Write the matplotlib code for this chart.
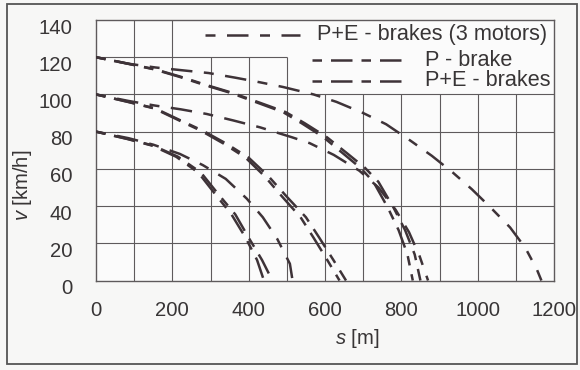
import matplotlib.pyplot as plt
import matplotlib.transforms as mtransforms
from matplotlib.patches import Rectangle

plt.rcParams['font.family'] = ['Liberation Sans', 'DejaVu Sans']
plt.rcParams['mathtext.fontset'] = 'custom'
plt.rcParams['mathtext.it'] = 'Liberation Sans:italic'
plt.rcParams['mathtext.rm'] = 'Liberation Sans'

# braking curves: s [m] and v [km/h]
s_80_pe = [0, 83, 147, 210, 268, 312, 355, 392, 422, 440]
v_80_pe = [80, 76, 72.5, 66.5, 58, 46.5, 35.5, 23, 11, 0]
s_80_p = [0, 85, 150, 215, 275, 320, 365, 400, 435, 462]
v_80_p = [80, 76, 72.5, 66.5, 58, 46.5, 35.5, 23, 11, 0]
s_80_3m = [0, 85, 150, 220, 280, 340, 395, 437, 475, 508, 515]
v_80_3m = [80, 76.5, 73, 68, 62, 54.6, 44, 34, 22.3, 9, 0]

s_100_pe = [0, 83, 152, 218, 275, 335, 392, 442, 488, 536, 570, 606, 638]
v_100_pe = [100, 96, 92.5, 86, 80.5, 73.5, 66, 56, 45, 34, 23, 11, 0]
s_100_p = [0, 85, 155, 222, 280, 342, 400, 452, 500, 550, 585, 622, 655]
v_100_p = [100, 96, 92.5, 86, 80.5, 73.5, 66, 56, 45, 34, 23, 11, 0]
s_100_3m = [0, 85, 155, 222, 290, 360, 430, 513, 560, 623, 690, 740, 785, 820, 848, 870]
v_100_3m = [100, 96.5, 94, 92, 89.5, 86, 82.3, 77, 73.8, 67.5, 59, 50, 38, 26, 13, 0]

s_120_pe = [0, 83, 152, 218, 285, 350, 417, 490, 539, 596, 646, 693, 727, 765, 793, 816, 830]
v_120_pe = [120, 116.5, 113.5, 109.5, 105, 101, 96, 90.5, 84.5, 77, 68.5, 60.5, 53, 39, 27, 14, 0]
s_120_p = [0, 85, 155, 222, 290, 355, 423, 497, 547, 605, 657, 705, 740, 780, 810, 835, 850]
v_120_p = [120, 116.5, 113.5, 109.5, 105, 101, 96, 90.5, 84.5, 77, 68.5, 60.5, 53, 39, 27, 14, 0]
s_120_3m = [0, 85, 155, 225, 295, 365, 430, 490, 570, 630, 700, 760, 825, 880, 935, 985, 1035, 1085, 1125, 1155, 1167]
v_120_3m = [120, 116.5, 114.5, 113, 111.5, 109, 106.5, 104, 100, 96, 90, 84, 75, 67, 58, 49, 39, 28.5, 17.5, 6, 0]

x_ticks = [0, 200, 400, 600, 800, 1000, 1200]
y_ticks = [0, 20, 40, 60, 80, 100, 120, 140]
legend_labels = ['P+E - brakes (3 motors)', 'P - brake', 'P+E - brakes']

ink = '#3e3338'
txt = '#383536'
grid_c = '#5e5a5c'
fs = 14.6
lw = 1.8
# dash lengths are multiplied by the line width
dash_3m = (0, (4.0, 4.6, 8.6, 4.6))
dash_p = (0, (3.8, 3.6, 8.6, 3.6))
dash_pe = (0, (3.8, 3.6, 8.6, 3.6))

fig = plt.figure(figsize=(5.8, 3.7), dpi=100)
fig.patch.set_facecolor('#f7f7f6')
ax = fig.add_axes([96 / 580, 1 - 280.5 / 370, 458 / 580, 260.5 / 370])
ax.set_facecolor('#fbfbfb')

# frame around the whole figure
fig.patches.append(Rectangle((7 / 580, 1 - 364 / 370), 570 / 580, 360 / 370,
                             transform=fig.transFigure, fill=False,
                             edgecolor='#555', lw=1.3))

# grid, left out behind the legend
for x in range(100, 1200, 100):
    top = 140 if x <= 200 else (120 if x <= 500 else 100)
    ax.vlines(x, 0, top, color=grid_c, lw=0.8, zorder=1)
for y in range(20, 140, 20):
    right = 500 if y == 120 else 1200
    ax.hlines(y, 0, right, color=grid_c, lw=0.8, zorder=1)

for s, v in [(s_80_3m, v_80_3m), (s_100_3m, v_100_3m), (s_120_3m, v_120_3m)]:
    ax.plot(s, v, color=ink, lw=lw, ls=dash_3m, zorder=3)
for s, v in [(s_80_p, v_80_p), (s_100_p, v_100_p), (s_120_p, v_120_p)]:
    ax.plot(s, v, color=ink, lw=lw, ls=dash_p, zorder=3)
for s, v in [(s_80_pe, v_80_pe), (s_100_pe, v_100_pe), (s_120_pe, v_120_pe)]:
    ax.plot(s, v, color=ink, lw=lw, ls=dash_pe, zorder=3)

# legend drawn by hand: samples left of the text
rows = [(0.238, 0.445, 0.482, 0.943, dash_3m),
        (0.472, 0.681, 0.718, 0.846, dash_p),
        (0.472, 0.681, 0.718, 0.766, dash_pe)]
for (x0, x1, xt, yr, ls), lab in zip(rows, legend_labels):
    ax.plot([x0, x1], [yr, yr], transform=ax.transAxes, color=ink, lw=lw, ls=ls)
    ax.text(xt, yr, lab, transform=ax.transAxes, fontsize=fs + 1, color=txt,
            va='center', ha='left')

ax.set_xlim(0, 1200)
ax.set_ylim(0, 140)
ax.set_xticks(x_ticks)
ax.set_yticks(y_ticks)
ax.tick_params(length=0, labelsize=fs, labelcolor=txt)
ax.tick_params(axis='y', pad=17)
ax.tick_params(axis='x', pad=15)
shift = mtransforms.ScaledTranslation(0, -0.06, fig.dpi_scale_trans)
for lab in ax.get_yticklabels():
    lab.set_transform(lab.get_transform() + shift)
for sp in ax.spines.values():
    sp.set_color(grid_c)
    sp.set_linewidth(1.0)

ax.set_xlabel('$s$ [m]', fontsize=fs, color=txt)
ax.xaxis.set_label_coords((357 - 96) / 458, (280.5 - 339) / 260.5)
ax.xaxis.label.set_va('center')
ax.set_ylabel('$v$ [km/h]', fontsize=fs, color=txt)
ax.yaxis.set_label_coords((22 - 96) / 458, (280.5 - 185) / 260.5)
ax.yaxis.label.set_va('center')

fig.savefig('out.png', dpi=100, facecolor=fig.get_facecolor())
